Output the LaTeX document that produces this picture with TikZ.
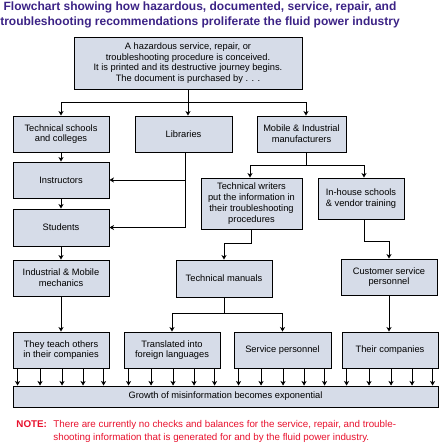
\documentclass[tikz,border=0pt]{standalone}
\usepackage{fontspec}
\setmainfont{Liberation Sans}
\usetikzlibrary{arrows.meta}
\definecolor{boxfill}{HTML}{D6DCE8}
\definecolor{titlepurple}{HTML}{3C2386}
\definecolor{notered}{HTML}{E8112D}
\tikzset{every picture/.style={line width=0.9pt}}
\tikzset{
  box/.style={draw, fill=boxfill, align=center, inner sep=1pt,
    font=\fontsize{9.3}{10.8}\selectfont},
  arr/.style={-{Stealth[length=4.5pt,width=5pt,inset=1.2pt]}},
  note/.style={anchor=base west, inner sep=0pt, text=notered, font=\fontsize{9.8}{12}\selectfont},
}

\begin{document}
\begin{tikzpicture}[x=1pt,y=1pt,yscale=-1,xscale=1]
\useasboundingbox (0,0) rectangle (439,445);
% title
\node [align=center, text=titlepurple, font=\fontsize{12}{15}\selectfont\bfseries] (title) at (200,14.5)
  {Flowchart showing how hazardous, documented, service, repair, and\\troubleshooting recommendations proliferate the fluid power industry};
% boxes
\node [box, minimum width=228pt, minimum height=52pt] (top) at (188,63)
  {A hazardous service, repair, or\\troubleshooting procedure is conceived.\\It is printed and its destructive journey begins.\\The document is purchased by . . .};
\node [box, minimum width=96pt, minimum height=36pt] (schools) at (61,134) {Technical schools\\and colleges};
\node [box, minimum width=97pt, minimum height=36pt] (libs) at (183.5,134) {Libraries};
\node [box, minimum width=89pt, minimum height=36pt] (mobile) at (301.5,134) {Mobile \& Industrial\\manufacturers};
\node [box, minimum width=96pt, minimum height=36pt] (instructors) at (61,180) {Instructors};
\node [box, minimum width=96pt, minimum height=37pt] (students) at (61,227.5) {Students};
\node [box, minimum width=101pt, minimum height=51pt] (writers) at (251.5,203.5)
  {Technical writers\\put the information in\\their troubleshooting\\procedures};
\node [box, minimum width=86pt, minimum height=41pt] (inhouse) at (361,198.5) {In-house schools\\\& vendor training};
\node [box, minimum width=96pt, minimum height=36pt] (mechanics) at (61,278) {Industrial \& Mobile\\mechanics};
\node [box, minimum width=96pt, minimum height=37pt] (manuals) at (224,278.5) {Technical manuals};
\node [box, minimum width=96pt, minimum height=36pt] (customer) at (389,277) {Customer service\\personnel};
\node [box, minimum width=96pt, minimum height=36pt] (teach) at (61,350) {They teach others\\in their companies};
\node [box, minimum width=96pt, minimum height=36pt] (translated) at (172,350) {Translated into\\foreign languages};
\node [box, minimum width=97pt, minimum height=36pt] (service) at (282.5,350) {Service personnel};
\node [box, minimum width=96pt, minimum height=36pt] (theirco) at (390,350) {Their companies};
\node [box, minimum width=425pt, minimum height=21pt] (growth) at (225.5,396.5) {Growth of misinformation becomes exponential};
% connectors
\draw (top.south) -- ++(0,13) coordinate (topbus);
\draw [arr] (topbus) -| (schools.north);
\draw [arr] (topbus) -- (topbus |- libs.north);
\draw [arr] (topbus) -| ([xshift=4.5pt]mobile.north);
\draw [arr] (schools) -- (instructors);
\draw [arr] (instructors) -- (students);
\draw [arr] (students) -- (mechanics);
\draw [arr] (mechanics) -- (teach);
\draw [arr] ([xshift=1.5pt]libs.south) |- (students.east);
\draw [arr] ([xshift=1.5pt]libs.south |- instructors.east) -- (instructors.east);
\draw ([xshift=4.5pt]mobile.south) -- ++(0,13) coordinate (mobbus);
\draw [arr] (mobbus) -| ([xshift=-1.5pt]writers.north);
\draw [arr] (mobbus) -| ([xshift=3pt]inhouse.north);
\draw [arr] (writers.south) -- ++(0,14) -| (manuals.north);
\draw [arr] ([xshift=3pt]inhouse.south) -- ++(0,22) -| (customer.north);
\draw (manuals.south) -- ++(0,16) coordinate (manbus);
\draw [arr] (manbus) -| (translated.north);
\draw [arr] (manbus) -| (service.north);
\draw [arr] (customer) -- (customer |- theirco.north);
\foreach \b in {teach,translated,service,theirco}
  \foreach \dx in {5,27.5,49.5,70.5,91}
    \draw [arr] ([xshift=\dx pt]\b.south west) -- ([xshift=\dx pt]\b.south west |- growth.north);
% note
\node [note, font=\fontsize{9.8}{12}\selectfont\bfseries] (notelabel) at (16,427) {NOTE:};
\node [note] (noteone) at (53,427)
  {There are currently no checks and balances for the service, repair, and trouble-};
\node [note] (notetwo) at (53,440)
  {shooting information that is generated for and by the fluid power industry.};
\end{tikzpicture}
\end{document}
